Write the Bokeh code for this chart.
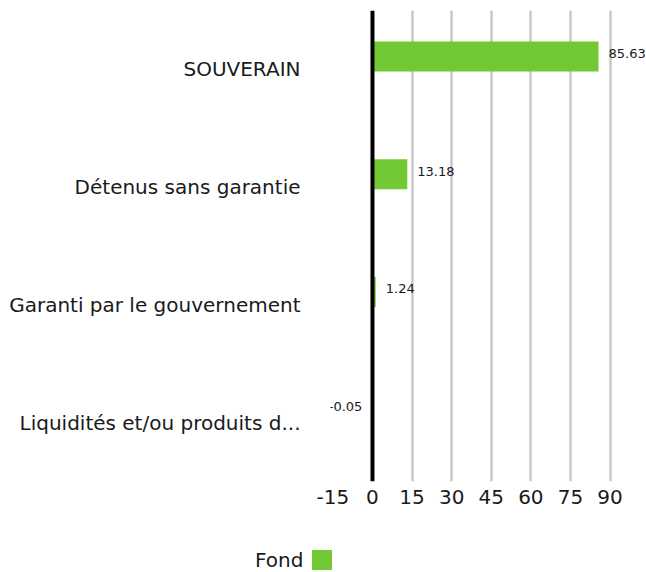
from bokeh.plotting import figure
from bokeh.layouts import column, row
from bokeh.models import (ColumnDataSource, FactorRange, FixedTicker, Span,
                          LabelSet, Legend, LegendItem, Range1d)
from bokeh.core.properties import value
from bokeh.transform import dodge
from bokeh.embed import file_html
from bokeh.resources import INLINE

categories = ["SOUVERAIN", "Détenus sans garantie", "Garanti par le gouvernement",
              "Liquidités et/ou produits d..."]
values = [85.63, 13.18, 1.24, -0.05]
value_labels = ["85.63", "13.18", "1.24", "-0.05"]
x_ticks = [-15, 0, 15, 30, 45, 60, 75, 90]
series_name = "Fond"

FONT = "DejaVu Sans"
GREEN = "#73c933"
TXT = "#1a1a1a"

src = ColumnDataSource(dict(
    cat=categories,
    val=values,
    lab=value_labels,
    align=["left" if v >= 0 else "right" for v in values],
    xoff=[10 if v >= 0 else -10 for v in values],
))

p = figure(width=646, height=530, output_backend="svg", toolbar_location=None,
           y_range=FactorRange(*reversed(categories)), x_range=(-15.9, 103.8),
           min_border_left=330, min_border_right=0, min_border_top=10,
           min_border_bottom=49)
p.outline_line_color = None
p.background_fill_color = "white"

p.hbar(y=dodge("cat", 0.11, range=p.y_range), right="val", left=0, height=0.255,
       source=src, fill_color=GREEN, line_color=None)

labels = LabelSet(x="val", y=dodge("cat", 0.11, range=p.y_range), text="lab",
                  source=src, x_offset="xoff", y_offset=3, text_align="align",
                  text_baseline="middle", text_font_size=value("13px"),
                  text_font=value(FONT), text_color=TXT)
p.add_layout(labels)

p.xgrid.ticker = FixedTicker(ticks=[15, 30, 45, 60, 75, 90])
p.xgrid.grid_line_color = "#c8c8c8"
p.xgrid.grid_line_width = 2.5
p.ygrid.grid_line_color = None

p.add_layout(Span(location=0, dimension="height", line_color="black", line_width=4))

p.xaxis.ticker = FixedTicker(ticks=x_ticks)
p.xaxis.major_label_overrides = {t: str(t) for t in x_ticks}
p.xaxis.axis_line_color = None
p.xaxis.major_tick_line_color = None
p.xaxis.minor_tick_line_color = None
p.xaxis.major_tick_out = 0
p.xaxis.major_label_standoff = 8
p.xaxis.major_label_text_font = FONT
p.xaxis.major_label_text_font_size = "20px"
p.xaxis.major_label_text_color = TXT

p.yaxis.axis_line_color = None
p.yaxis.major_tick_line_color = None
p.yaxis.minor_tick_line_color = None
p.yaxis.major_tick_out = 0
p.yaxis.major_label_standoff = 30
p.yaxis.major_label_text_font = FONT
p.yaxis.major_label_text_font_size = "20px"
p.yaxis.major_label_text_color = TXT

# legend strip below the chart (text left of the green swatch)
lg = figure(width=646, height=42, output_backend="svg", toolbar_location=None,
            x_range=Range1d(0, 1), y_range=Range1d(0, 1),
            min_border_left=0, min_border_right=0, min_border_top=0,
            min_border_bottom=0)
lg.xaxis.visible = False
lg.yaxis.visible = False
lg.grid.visible = False
lg.outline_line_color = None
# proxy renderers lying outside the visible range, only used for the legend
blank = lg.hbar(y=[-5], right=[-4], left=[-5], height=0.1, fill_alpha=0, line_alpha=0)
swatch = lg.hbar(y=[-5], right=[-4], left=[-5], height=0.1, fill_color=GREEN,
                 line_color=None)
legend = Legend(items=[LegendItem(label=series_name, renderers=[blank]),
                       LegendItem(label=" ", renderers=[swatch])],
                orientation="horizontal", location=(230, 0),
                padding=0, margin=0, spacing=6, label_standoff=0,
                glyph_width=25, glyph_height=25, label_width=0,
                label_text_font=FONT, label_text_font_size="20px",
                label_text_color=TXT, border_line_color=None,
                background_fill_alpha=0)
lg.add_layout(legend, "center")

layout = column(p, row(lg, spacing=0), spacing=0)
open("out.html", "w").write(file_html(layout, INLINE))
